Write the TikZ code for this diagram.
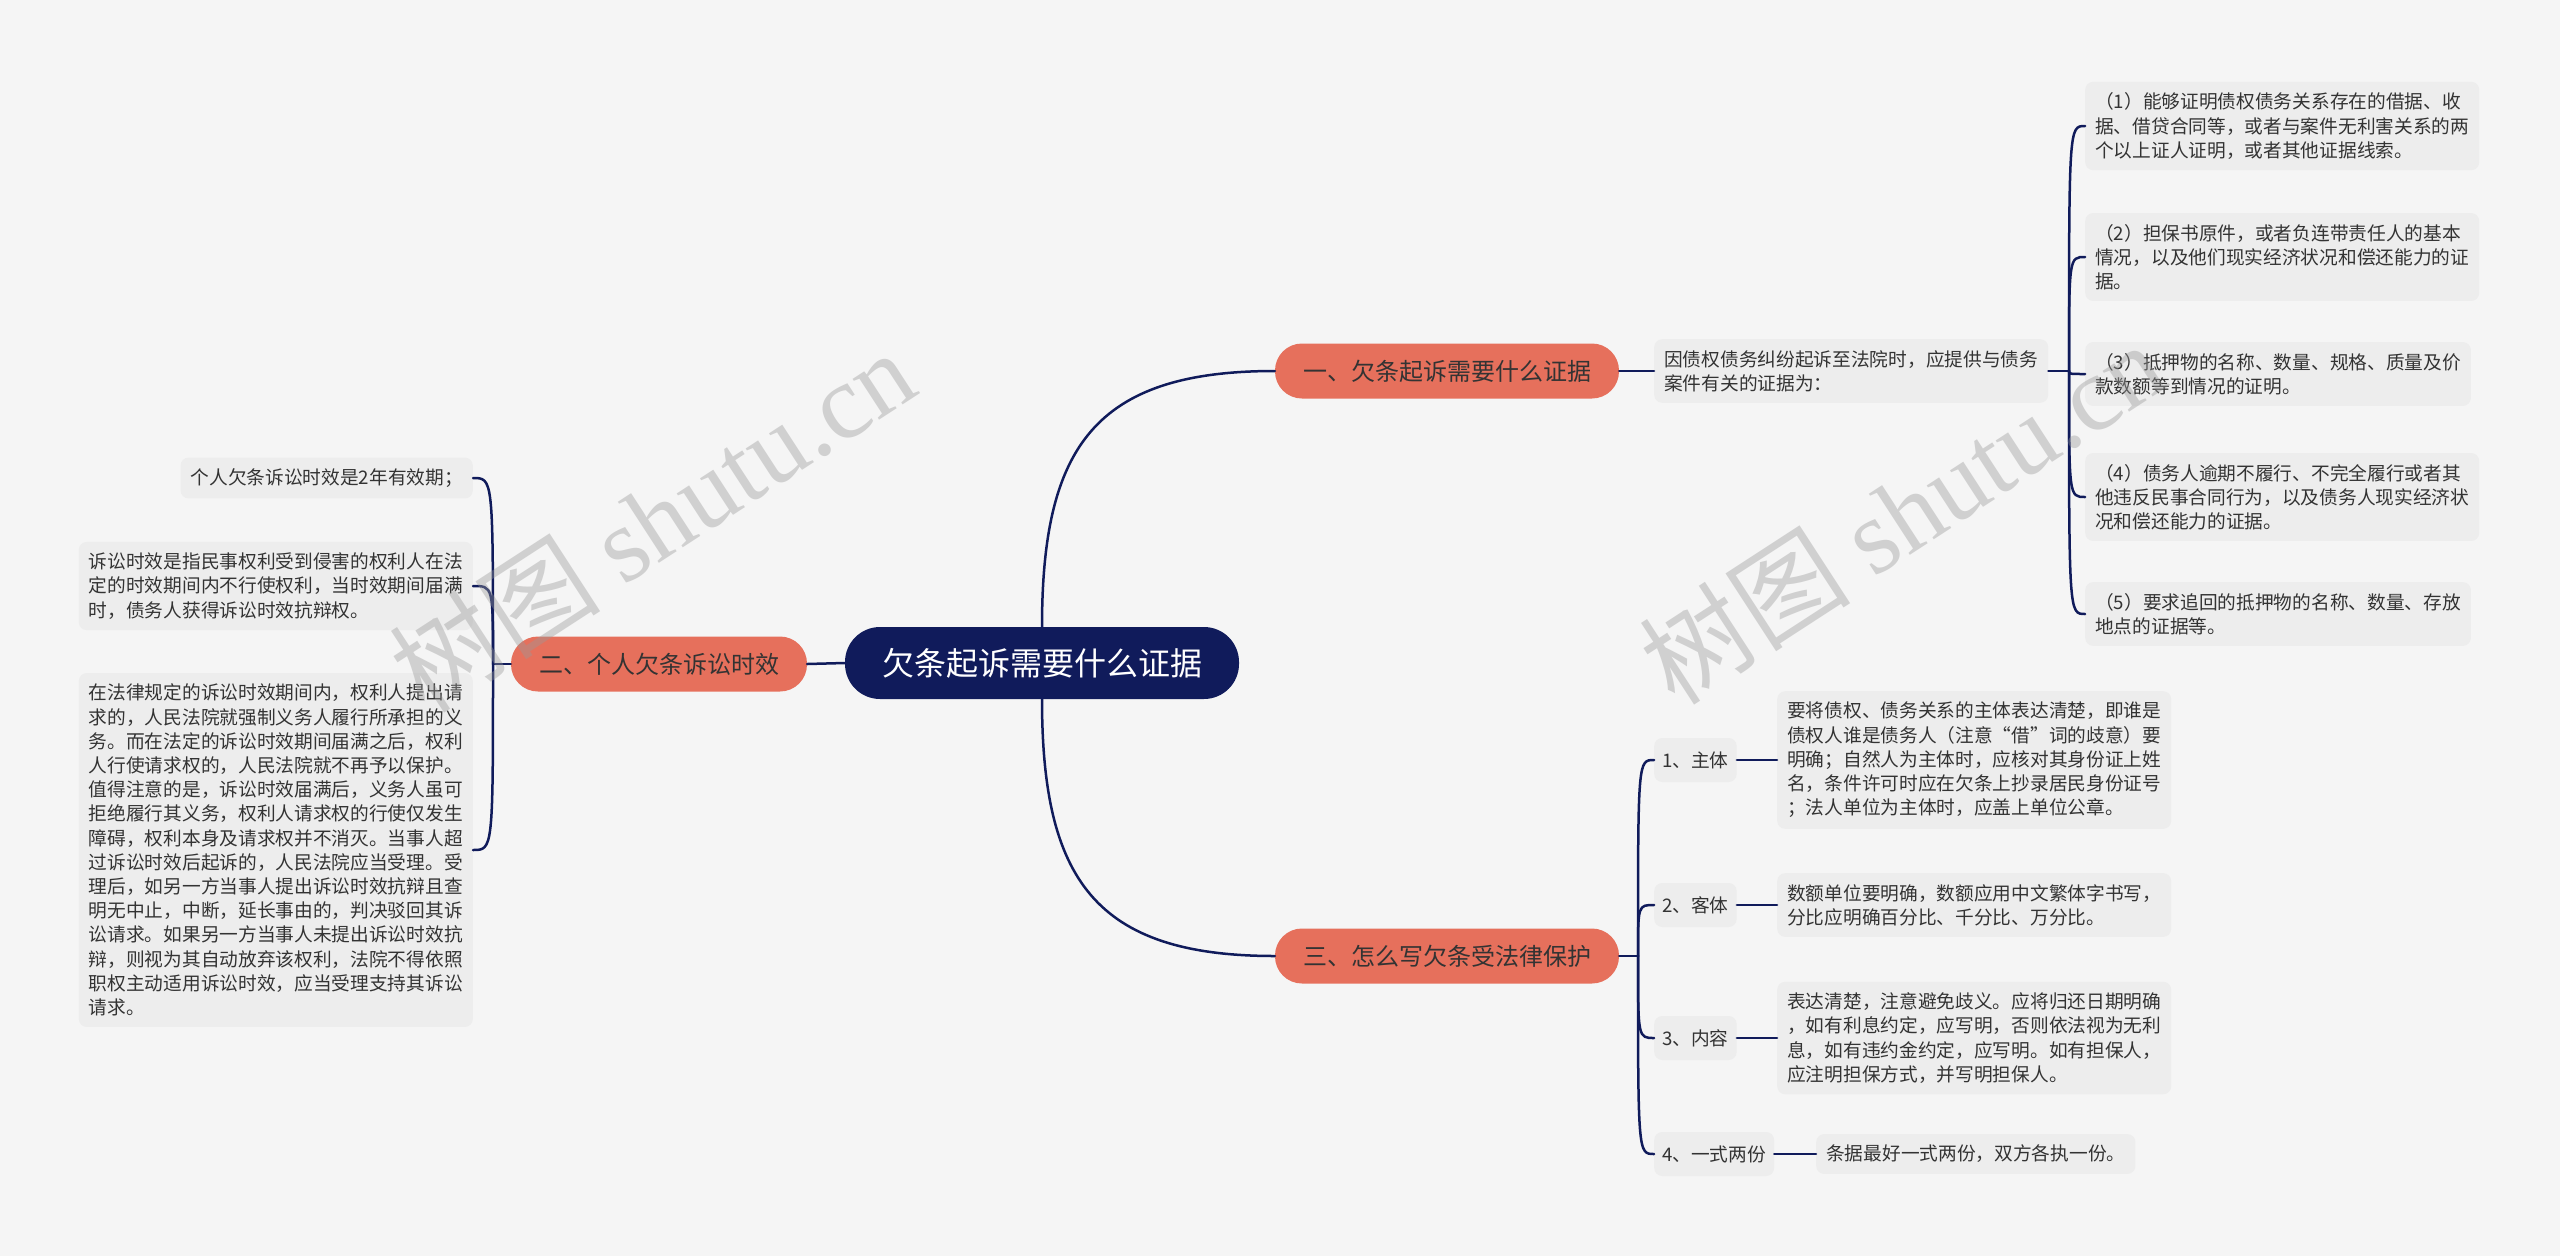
\documentclass[tikz,border=0pt]{standalone}
\usepackage{fontspec}
\setmainfont{Noto Sans CJK SC}
\newfontfamily\wmlatin{Liberation Serif}
\usetikzlibrary{calc}
\definecolor{pagebg}{HTML}{F5F5F5}
\definecolor{rootblue}{HTML}{101B5B}
\definecolor{salmon}{HTML}{E6705C}
\definecolor{cardbg}{HTML}{EDEDED}
\definecolor{ink}{HTML}{333333}
\definecolor{wmgray}{HTML}{999999}
\newcommand{\branchto}[2]{\draw[link] (#1) .. controls (#1 |- #2) .. (#2);}
\tikzset{
  link/.style={line width=2.5pt,rootblue,line cap=round},
  rootpill/.style={fill=rootblue,text=white,rounded corners=35pt,minimum height=72pt,inner xsep=37pt,font=\fontsize{32}{38}\selectfont},
  branchpill/.style={fill=salmon,text=ink,rounded corners=27pt,minimum height=55pt,inner xsep=28pt,font=\fontsize{24}{30}\selectfont},
  card/.style={fill=cardbg,text=ink,rounded corners=8pt,align=left,inner xsep=10pt,inner ysep=11pt,font=\fontsize{18.7}{24.2}\selectfont},
  tag/.style={card,inner xsep=8pt,minimum height=44pt},
  wmark/.style={text=wmgray,opacity=0.4,rotate=33,font=\fontsize{106}{106}\selectfont}
}

\begin{document}
\begin{tikzpicture}[x=1pt,y=-1pt]
\useasboundingbox[fill=pagebg] (0,0) rectangle (2560,1256);
\node[rootpill] (root) at (1042,663) {欠条起诉需要什么证据};
\node[branchpill] (evid) at (1447,371) {一、欠条起诉需要什么证据};
\node[branchpill] (limit) at (659,664) {二、个人欠条诉讼时效};
\node[branchpill] (write) at (1447,956) {三、怎么写欠条受法律保护};
\draw[link] (root.north) .. controls +(0,-180) and +(-180,0) .. (evid.west);
\draw[link] (root.south) .. controls +(0,180) and +(-180,0) .. (write.west);
\draw[link] (root.west) -- (limit.east);
% evidence
\node[card,anchor=west] (intro) at (1654,371) {因债权债务纠纷起诉至法院时，应提供与债务\\案件有关的证据为：};
\coordinate (fa) at (2069,371);
\draw[link] (evid.east) -- (intro.west);
\draw[link] (intro.east) -- (fa);
\node[card,anchor=west] (ev1) at (2085,126) {（1）能够证明债权债务关系存在的借据、收\\据、借贷合同等，或者与案件无利害关系的两\\个以上证人证明，或者其他证据线索。};
\node[card,anchor=west] (ev2) at (2085,257) {（2）担保书原件，或者负连带责任人的基本\\情况，以及他们现实经济状况和偿还能力的证\\据。};
\node[card,anchor=west] (ev3) at (2085,374) {（3）抵押物的名称、数量、规格、质量及价\\款数额等到情况的证明。};
\node[card,anchor=west] (ev4) at (2085,497) {（4）债务人逾期不履行、不完全履行或者其\\他违反民事合同行为，以及债务人现实经济状\\况和偿还能力的证据。};
\node[card,anchor=west] (ev5) at (2085,614) {（5）要求追回的抵押物的名称、数量、存放\\地点的证据等。};
\foreach \n in {ev1,ev2,ev3,ev4,ev5} \branchto{fa}{\n.west};
% limitation
\coordinate (fb) at (493,664);
\draw[link] (limit.west) -- (fb);
\node[card,anchor=east] (lm1) at (473,478) {个人欠条诉讼时效是2年有效期；};
\node[card,anchor=east] (lm2) at (473,586) {诉讼时效是指民事权利受到侵害的权利人在法\\定的时效期间内不行使权利，当时效期间届满\\时，债务人获得诉讼时效抗辩权。};
\node[card,anchor=east] (lm3) at (473,850) {在法律规定的诉讼时效期间内，权利人提出请\\求的，人民法院就强制义务人履行所承担的义\\务。而在法定的诉讼时效期间届满之后，权利\\人行使请求权的，人民法院就不再予以保护。\\值得注意的是，诉讼时效届满后，义务人虽可\\拒绝履行其义务，权利人请求权的行使仅发生\\障碍，权利本身及请求权并不消灭。当事人超\\过诉讼时效后起诉的，人民法院应当受理。受\\理后，如另一方当事人提出诉讼时效抗辩且查\\明无中止，中断，延长事由的，判决驳回其诉\\讼请求。如果另一方当事人未提出诉讼时效抗\\辩，则视为其自动放弃该权利，法院不得依照\\职权主动适用诉讼时效，应当受理支持其诉讼\\请求。};
\foreach \n in {lm1,lm2,lm3} \branchto{fb}{\n.east};
% writing
\coordinate (fc) at (1638,956);
\draw[link] (write.east) -- (fc);
\node[tag,anchor=west] (wr1) at (1654,760) {1、主体};
\node[tag,anchor=west] (wr2) at (1654,905) {2、客体};
\node[tag,anchor=west] (wr3) at (1654,1038) {3、内容};
\node[tag,anchor=west] (wr4) at (1654,1154) {4、一式两份};
\node[card,anchor=west] (wd1) at (1777,760) {要将债权、债务关系的主体表达清楚，即谁是\\债权人谁是债务人（注意“借”词的歧意）要\\明确；自然人为主体时，应核对其身份证上姓\\名，条件许可时应在欠条上抄录居民身份证号\\；法人单位为主体时，应盖上单位公章。};
\node[card,anchor=west] (wd2) at (1777,905) {数额单位要明确，数额应用中文繁体字书写，\\分比应明确百分比、千分比、万分比。};
\node[card,anchor=west] (wd3) at (1777,1038) {表达清楚，注意避免歧义。应将归还日期明确\\，如有利息约定，应写明，否则依法视为无利\\息，如有违约金约定，应写明。如有担保人，\\应注明担保方式，并写明担保人。};
\node[card,anchor=west] (wd4) at (1816,1154) {条据最好一式两份，双方各执一份。};
\foreach \n in {1,...,4} {\branchto{fc}{wr\n.west} \draw[link] (wr\n.east) -- (wd\n.west);}
% watermark
\node[wmark] (wmL) at (652,520) {树图 {\wmlatin shutu.cn}};
\node[wmark] (wmR) at (1902,512) {树图 {\wmlatin shutu.cn}};
\end{tikzpicture}
\end{document}
